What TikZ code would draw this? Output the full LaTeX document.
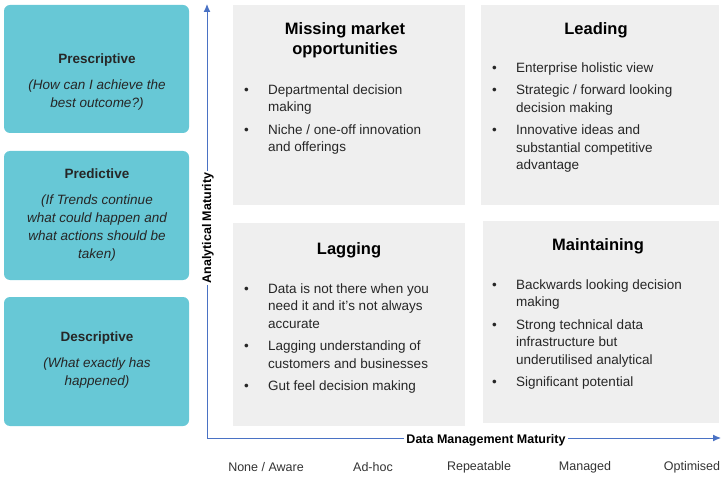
\documentclass[tikz,border=0pt]{standalone}
\usepackage{fontspec}
\setmainfont{Liberation Sans}
\usetikzlibrary{arrows.meta}
\definecolor{teal1}{HTML}{67C8D6}
\definecolor{quad}{HTML}{EFEFEF}
\definecolor{axis}{HTML}{4A72C4}
\tikzset{
  lbox/.style={fill=teal1,rounded corners=6pt,draw=none},
  qbox/.style={fill=quad,draw=none},
  ltext/.style={align=center,font=\fontsize{13.5}{18}\selectfont,text=black!85},
  qtitle/.style={align=center,font=\fontsize{16.5}{20}\selectfont\bfseries},
  blist/.style={anchor=north west,inner sep=0pt,font=\fontsize{13.5}{17.5}\selectfont,text=black!85},
  bot/.style={font=\fontsize{12.5}{15}\selectfont,text=black!80},
  ax/.style={draw=axis,line width=1pt,-{Latex[length=8pt,width=7pt]}}
}
\newcommand{\bl}{\textbullet}
\begin{document}
\begin{tikzpicture}[x=1pt,y=-1pt]
\useasboundingbox (0,0) rectangle (725,478);
% left boxes
\fill[lbox] (4,5) rectangle (189,133);
\fill[lbox] (4,151) rectangle (189,280);
\fill[lbox] (4,297) rectangle (189,426);
\node[ltext] (pres) at (97,82) {\textbf{Prescriptive}\\[8pt]\itshape (How can I achieve the\\\itshape best outcome?)};
\node[ltext] (pred) at (97,215) {\textbf{Predictive}\\[8pt]\itshape (If Trends continue\\\itshape what could happen and\\\itshape what actions should be\\\itshape taken)};
\node[ltext] (desc) at (97,360) {\textbf{Descriptive}\\[8pt]\itshape (What exactly has\\\itshape happened)};
% quadrants
\fill[qbox] (233,5) rectangle (465,205);
\fill[qbox] (481,5) rectangle (719,205);
\fill[qbox] (233,223) rectangle (465,426);
\fill[qbox] (483,221) rectangle (719,423);
% axes
\coordinate (o) at (207,438);
\coordinate (yt) at (207,4);
\coordinate (xr) at (721,438);
\draw[ax] (o) -- (yt);
\draw[ax] (o) -- (xr);
\node[rotate=90,font=\fontsize{12.5}{15}\selectfont\bfseries,fill=white,inner sep=1pt] (ya) at (208,228) {Analytical Maturity};
\node[font=\fontsize{12.5}{15}\selectfont\bfseries,fill=white,inner sep=2pt] (xa) at (486,440) {Data Management Maturity};
% titles
\node[qtitle] (t1) at (345,40) {Missing market\\opportunities};
\node[qtitle] (t2) at (596,30) {Leading};
\node[qtitle] (t3) at (349,250) {Lagging};
\node[qtitle] (t4) at (598,246) {Maintaining};
% bullets
\node[blist] (b1) at (244,82) {\begin{tabular}{@{}p{24pt}@{}l@{}}
\bl & Departmental decision\\ & making\\[5pt]
\bl & Niche / one-off innovation\\ & and offerings\end{tabular}};
\node[blist] (b2) at (492,60) {\begin{tabular}{@{}p{24pt}@{}l@{}}
\bl & Enterprise holistic view\\[5pt]
\bl & Strategic / forward looking\\ & decision making\\[5pt]
\bl & Innovative ideas and\\ & substantial competitive\\ & advantage\end{tabular}};
\node[blist] (b3) at (244,281) {\begin{tabular}{@{}p{24pt}@{}l@{}}
\bl & Data is not there when you\\ & need it and it's not always\\ & accurate\\[5pt]
\bl & Lagging understanding of\\ & customers and businesses\\[5pt]
\bl & Gut feel decision making\end{tabular}};
\node[blist] (b4) at (492,277) {\begin{tabular}{@{}p{24pt}@{}l@{}}
\bl & Backwards looking decision\\ & making\\[5pt]
\bl & Strong technical data\\ & infrastructure but\\ & underutilised analytical\\[5pt]
\bl & Significant potential\end{tabular}};
% bottom labels
\node[bot] (l1) at (266,467) {None / Aware};
\node[bot] (l2) at (373,467) {Ad-hoc};
\node[bot] (l3) at (479,467) {Repeatable};
\node[bot] (l4) at (585,467) {Managed};
\node[bot] (l5) at (692,467) {Optimised};
\end{tikzpicture}
\end{document}
